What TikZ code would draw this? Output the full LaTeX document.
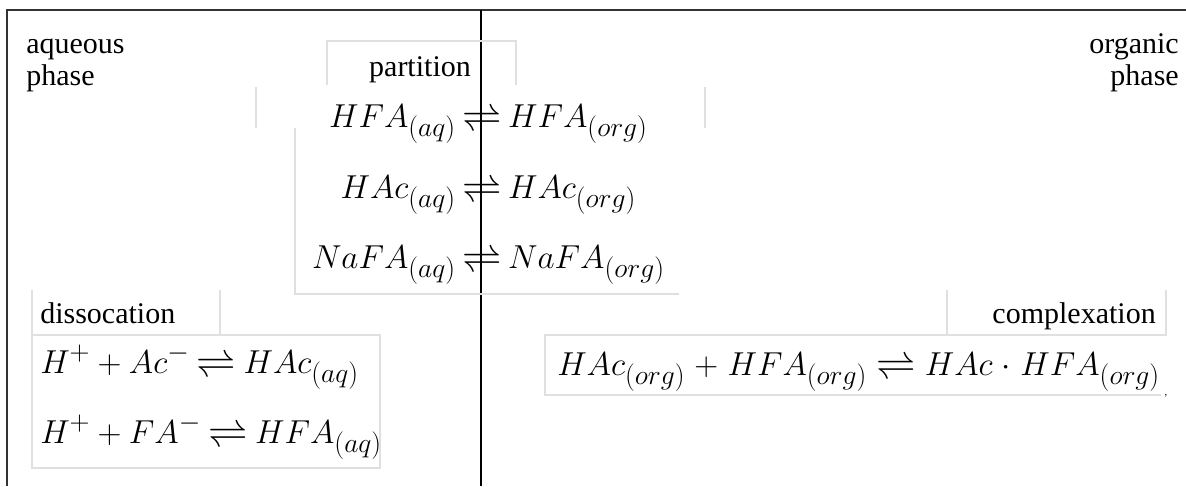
\documentclass[tikz,border=0pt]{standalone}
\usepackage{fontspec}
\setmainfont{Liberation Serif}
\newfontfamily\arrowfont{latinmodern-math.otf}
\DeclareMathSizes{29}{29}{22}{17}
\newcommand{\eqarrow}{\mathrel{\hbox{\arrowfont ⇌}}}
\newcommand{\wideeqspacing}{\thickmuskip=5mu\relax\medmuskip=5mu\relax}
\newcommand{\tighteqspacing}{\thickmuskip=4mu\relax\medmuskip=4mu\relax}
\begin{document}
\begin{tikzpicture}[x=0.75pt,y=-0.75pt,
  frame/.style={draw=black!80,line width=1.5pt},
  divider/.style={draw=black,line width=1.1pt},
  faint/.style={draw=black!12,line width=1pt},
  lbl/.style={inner sep=0pt,font=\fontsize{22.5}{27}\selectfont},
  eq/.style={inner sep=0pt,font=\fontsize{29}{34}\selectfont,execute at begin node=\wideeqspacing},
  deq/.style={inner sep=0pt,font=\fontsize{29}{34}\selectfont,execute at begin node=\tighteqspacing}]
\useasboundingbox (0,0) rectangle (1186,486);
% frame and divider
\draw[frame] (1186,10) -- (7,10) -- (7,486);
\draw[divider] (481,10) -- (481,486);
% faint text-box outlines
\draw[faint] (327,85) -- (327,41) -- (516,41) -- (516,85);
\draw[faint] (256,87) -- (256,128);
\draw[faint] (705,87) -- (705,128);
\draw[faint] (295,128) -- (295,294) -- (679,294);
\draw[faint] (32,290) -- (32,468) -- (380,468) -- (380,335) -- (32,335);
\draw[faint] (220,290) -- (220,335);
\draw[faint] (947,290) -- (947,335);
\draw[faint] (1166,290) -- (1166,335) -- (545,335) -- (545,395) -- (1161,395);
% phase labels
\node[lbl,anchor=base west] (aq1) at (26,53) {aqueous};
\node[lbl,anchor=base west] (aq2) at (26,85) {phase};
\node[lbl,anchor=base east] (org1) at (1179,53) {organic};
\node[lbl,anchor=base east] (org2) at (1179,85) {phase};
% section labels
\node[lbl,anchor=base] (part) at (420,76) {partition};
\node[lbl,anchor=base west] (diss) at (40,323) {dissocation};
\node[lbl,anchor=base east] (comp) at (1156,323) {complexation};
% partition equations
\node[eq,anchor=base] (p1) at (482,127) {\llap{$HFA_{(aq)}$\,}$\eqarrow$\rlap{\,$HFA_{(org)}$}};
\node[eq,anchor=base] (p2) at (482,198) {\llap{$HAc_{(aq)}$\,}$\eqarrow$\rlap{\,$HAc_{(org)}$}};
\node[eq,anchor=base] (p3) at (482,268) {\llap{$NaFA_{(aq)}$\,}$\eqarrow$\rlap{\,$NaFA_{(org)}$}};
% dissociation equations
\node[deq,anchor=base west] (d1) at (40,373) {$H^{+}+Ac^{-}\eqarrow HAc_{(aq)}$};
\node[deq,anchor=base west] (d2) at (40,443) {$H^{+}+FA^{-}\eqarrow HFA_{(aq)}$};
% complexation equation
\node[eq,anchor=base west] (c1) at (557,375) {$HAc_{(org)}+HFA_{(org)}\eqarrow HAc\cdot HFA_{(org)}$};
\node[inner sep=0pt,font=\fontsize{8}{8}\selectfont,anchor=base] (comma) at (1166,395) {,};
\end{tikzpicture}
\end{document}
